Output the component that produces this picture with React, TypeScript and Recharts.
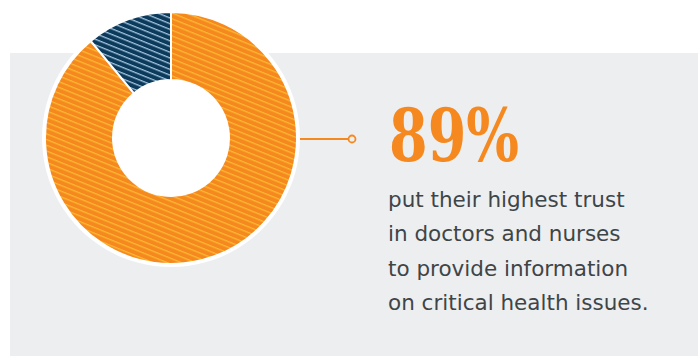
import { PieChart, Pie, Cell } from 'recharts';

const segments = ['Doctors and nurses', 'Other sources'];
const shares = [89, 11];
const backing = [{ name: 'backing', value: 1 }];

const headline = '89%';
const bodyLines = [
  'put their highest trust',
  'in doctors and nurses',
  'to provide information',
  'on critical health issues.',
];

const data = segments.map((name, i) => ({ name, value: shares[i] }));
const fills = ['url(#stripeOrange)', 'url(#stripeNavy)'];

const ORANGE = '#F5891F';
const PANEL = '#EDEEF0';

export default function App() {
  return (
    <div style={{ position: 'fixed', left: 0, top: 0, width: 698, height: 356, background: '#fff', overflow: 'hidden' }}>
      <div style={{ position: 'absolute', left: 10, top: 53, width: 688, height: 303, background: PANEL }} />

      <svg width={0} height={0} style={{ position: 'absolute' }}>
        <defs>
          <pattern id="stripeOrange" patternUnits="userSpaceOnUse" width={6} height={5.3} patternTransform="rotate(22)">
            <rect width={6} height={5.3} fill={ORANGE} />
            <rect y={0} width={6} height={1.3} fill="#FCB830" />
          </pattern>
          <pattern id="stripeNavy" patternUnits="userSpaceOnUse" width={6} height={5.3} patternTransform="rotate(22)">
            <rect width={6} height={5.3} fill="#0C3A5B" />
            <rect y={0} width={6} height={1.3} fill="#A2C4DE" />
          </pattern>
        </defs>
      </svg>

      <div style={{ position: 'absolute', left: 0, top: 0 }}>
        <PieChart width={698} height={356} margin={{ top: 0, right: 0, bottom: 0, left: 0 }}>
          <Pie
            data={backing}
            dataKey="value"
            cx={171}
            cy={138}
            innerRadius={0}
            outerRadius={129}
            fill="#ffffff"
            stroke="none"
            isAnimationActive={false}
          />
          <Pie
            data={data}
            dataKey="value"
            cx={171}
            cy={138}
            innerRadius={58}
            outerRadius={126}
            startAngle={90}
            endAngle={-270}
            stroke="#ffffff"
            strokeWidth={2}
            isAnimationActive={false}
          >
            {data.map((d, i) => (
              <Cell key={d.name} fill={fills[i]} />
            ))}
          </Pie>
        </PieChart>
      </div>

      <svg width={698} height={356} style={{ position: 'absolute', left: 0, top: 0 }}>
        <line x1={300} y1={139} x2={348.5} y2={139} stroke={ORANGE} strokeWidth={2} />
        <circle cx={352} cy={139} r={3.5} fill={PANEL} stroke={ORANGE} strokeWidth={1.8} />
        <text
          x={389}
          y={161}
          fill={ORANGE}
          fontFamily="DejaVu Serif"
          fontWeight="bold"
          fontSize={72}
          textLength={130}
          lengthAdjust="spacingAndGlyphs"
        >
          {headline}
        </text>
        {bodyLines.map((line, i) => (
          <text
            key={line}
            x={388}
            y={207 + i * 34.4}
            fill="#3E4547"
            fontFamily="DejaVu Sans"
            fontSize={21.5}
          >
            {line}
          </text>
        ))}
      </svg>
    </div>
  );
}
